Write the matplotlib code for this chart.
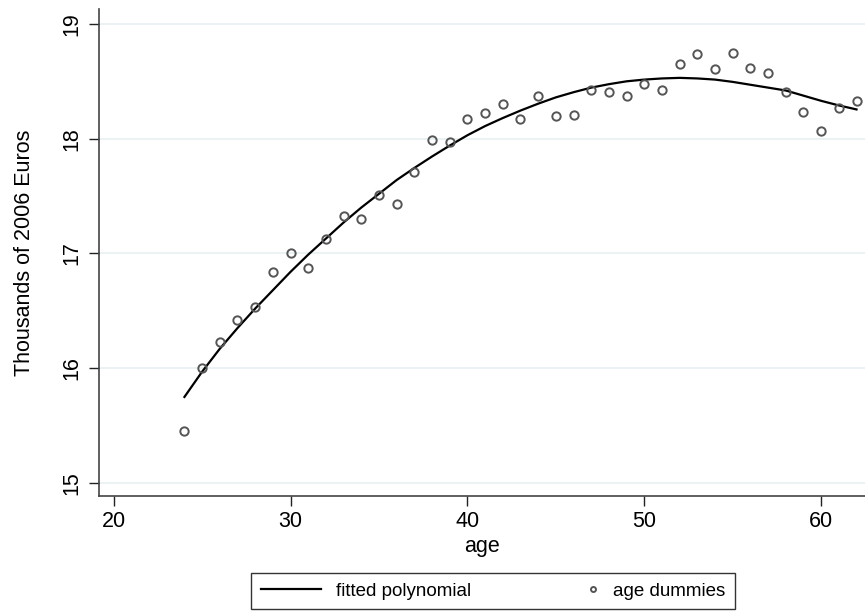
import matplotlib
matplotlib.use("Agg")
import numpy as np
import matplotlib.pyplot as plt
from matplotlib.legend_handler import HandlerLine2D

# age dummies (scatter) and fitted polynomial values
ages = list(range(24, 63))
dummies = [15.45, 16.00, 16.23, 16.42, 16.53, 16.84, 17.00, 16.87, 17.13, 17.33,
           17.30, 17.51, 17.43, 17.71, 17.99, 17.97, 18.17, 18.22, 18.30, 18.17,
           18.37, 18.20, 18.21, 18.42, 18.41, 18.37, 18.48, 18.42, 18.65, 18.74,
           18.61, 18.75, 18.62, 18.57, 18.41, 18.23, 18.07, 18.27, 18.33]
fitted = [15.75, 15.97, 16.17, 16.35, 16.52, 16.68, 16.84, 16.99, 17.13, 17.27,
          17.40, 17.52, 17.64, 17.745, 17.845, 17.94, 18.03, 18.11, 18.18, 18.245,
          18.305, 18.36, 18.405, 18.445, 18.475, 18.50, 18.515, 18.525, 18.53, 18.525,
          18.515, 18.495, 18.47, 18.445, 18.42, 18.375, 18.33, 18.29, 18.255]

x_ticks = [20, 30, 40, 50, 60]
y_ticks = [15, 16, 17, 18, 19]


class RightMarker(HandlerLine2D):
    # put the legend marker next to its text, like Stata does
    def get_xdata(self, legend, xdescent, ydescent, width, height, fontsize):
        x = np.array([-xdescent + width - 0.3 * fontsize])
        return x, x


plt.rcParams['font.family'] = ['Liberation Sans', 'DejaVu Sans']

fig = plt.figure(figsize=(8.65, 6.16), dpi=100)
ax = fig.add_axes([99 / 865, 1 - 496 / 616, 1 - 99 / 865, (496 - 9) / 616])

line, = ax.plot(ages, fitted, color='black', linewidth=1.6, label='fitted polynomial', zorder=3)
pts, = ax.plot(ages, dummies, linestyle='none', marker='o', markersize=6,
               markerfacecolor='none', markeredgecolor='#555555', markeredgewidth=1.4,
               label='age dummies', zorder=4)

ax.set_xlim(19.17, 62.48)
ax.set_ylim(14.887, 19.13)
ax.set_xticks(x_ticks)
ax.set_yticks(y_ticks)
ax.grid(axis='y', color='#e8f0f2', linewidth=1.2)
ax.set_axisbelow(True)

for s in ['top', 'right']:
    ax.spines[s].set_visible(False)
for s in ['left', 'bottom']:
    ax.spines[s].set_color('#444444')
    ax.spines[s].set_linewidth(1.2)

ax.tick_params(axis='both', direction='out', length=7, width=1, color='#222222', labelsize=15.5)
ax.tick_params(axis='y', pad=5)
plt.setp(ax.get_yticklabels(), rotation=90, va='center')

ax.set_xlabel('age', fontsize=15.5, labelpad=3)
ax.set_ylabel('Thousands of 2006 Euros', fontsize=15.5, labelpad=19)

leg = fig.legend(handles=[line, pts], loc='center', bbox_to_anchor=(493 / 865, 1 - 591 / 616),
                 ncol=2, fontsize=13.5, frameon=True, fancybox=False, edgecolor='black',
                 handlelength=3.2, handletextpad=0.8, columnspacing=3.6, markerscale=0.6,
                 borderpad=0.5, handler_map={pts: RightMarker(numpoints=2)})
leg.get_frame().set_linewidth(1.0)

fig.savefig('out.png', dpi=100)
